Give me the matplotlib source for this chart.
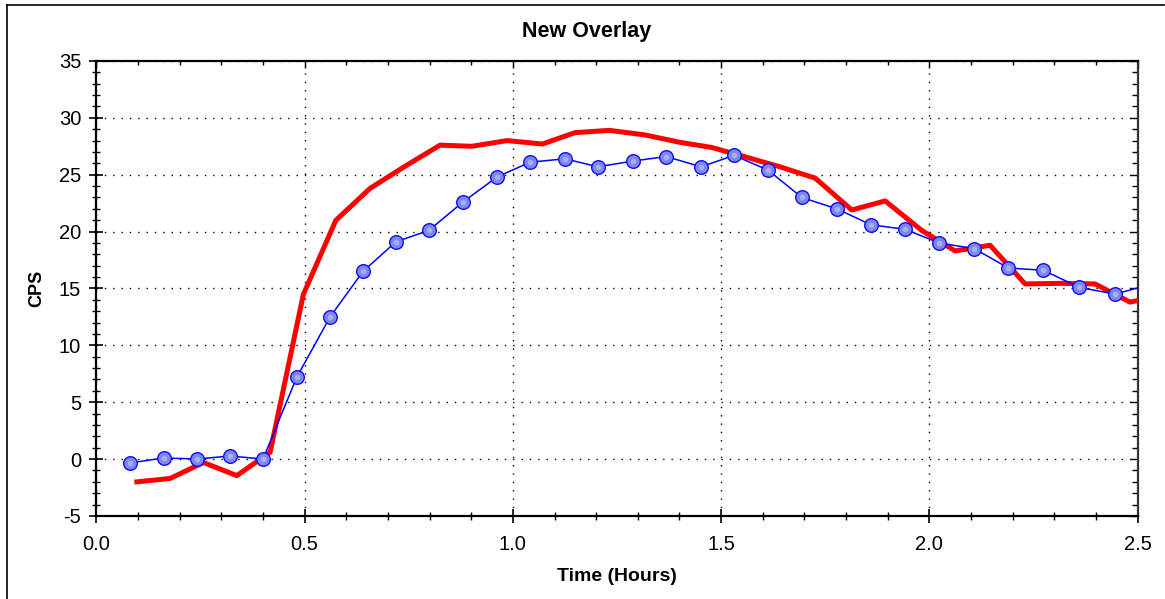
import matplotlib.pyplot as plt
from matplotlib.lines import Line2D
from matplotlib.ticker import MultipleLocator

plt.rcParams['font.family'] = ['Liberation Sans', 'DejaVu Sans']

# Measured counts (blue, with markers)
meas_hours = [0.080, 0.162, 0.241, 0.321, 0.400, 0.481, 0.561, 0.640, 0.719, 0.798,
              0.880, 0.962, 1.041, 1.125, 1.204, 1.288, 1.368, 1.452, 1.531, 1.613,
              1.694, 1.778, 1.860, 1.942, 2.024, 2.108, 2.190, 2.274, 2.360, 2.446,
              2.530]
meas_cps = [-0.34, 0.10, 0.01, 0.27, 0.01, 7.2, 12.5, 16.5, 19.1, 20.1,
            22.6, 24.8, 26.1, 26.4, 25.7, 26.2, 26.6, 25.7, 26.7, 25.4,
            23.0, 22.0, 20.6, 20.2, 19.0, 18.5, 16.8, 16.6, 15.1, 14.5,
            15.35]

# Overlay curve (red)
over_hours = [0.097, 0.177, 0.257, 0.337, 0.417, 0.497, 0.575, 0.657, 0.739, 0.825,
              0.901, 0.986, 1.071, 1.149, 1.232, 1.317, 1.401, 1.477, 1.560, 1.641,
              1.726, 1.814, 1.894, 1.982, 2.062, 2.146, 2.230, 2.315, 2.398, 2.482,
              2.560]
over_cps = [-2.0, -1.7, -0.3, -1.45, 0.6, 14.5, 21.0, 23.8, 25.7, 27.6,
            27.5, 28.0, 27.7, 28.7, 28.9, 28.5, 27.85, 27.4, 26.55, 25.7,
            24.7, 21.9, 22.7, 20.1, 18.3, 18.8, 15.4, 15.45, 15.4, 13.8,
            14.4]

fig = plt.figure(figsize=(11.65, 5.99), dpi=100)
ax = fig.add_axes([0.0828, 0.1386, 0.8936, 0.7596])

ax.plot(over_hours, over_cps, color='#ff0000', linewidth=3.6, zorder=3)
ax.plot(meas_hours, meas_cps, color='#0000ff', linewidth=1.1, marker='o',
        markersize=9.8, markerfacecolor='#7d86f2', markeredgecolor='#1010ee',
        markeredgewidth=1.0, zorder=4)
# small highlight on each marker
ax.plot(meas_hours, meas_cps, linestyle='none', marker='o', markersize=4,
        markerfacecolor='#c4c9fb', markeredgecolor='none', alpha=0.6, zorder=5)

ax.set_xlim(0, 2.5)
ax.set_ylim(-5, 35)
ax.xaxis.set_major_locator(MultipleLocator(0.5))
ax.xaxis.set_minor_locator(MultipleLocator(0.1))
ax.yaxis.set_major_locator(MultipleLocator(5))
ax.yaxis.set_minor_locator(MultipleLocator(1))
ax.xaxis.set_major_formatter(lambda v, p: f'{v:.1f}')
ax.yaxis.set_major_formatter(lambda v, p: f'{v:.0f}'.replace('\u2212', '-'))

ax.grid(which='major', color='black', linestyle=(0, (1, 5)), linewidth=1.0)

for side in ['left', 'bottom', 'top', 'right']:
    ax.spines[side].set_linewidth(1.6)
    ax.spines[side].set_color('black')
ax.spines['right'].set_color('#333333')

ax.tick_params(which='major', direction='inout', length=10, width=1.2,
               labelsize=14.5, top=False, right=False)
ax.tick_params(which='minor', direction='inout', length=6, width=1.0,
               top=False, right=False)
ax.tick_params(axis='x', which='major', pad=9)
ax.tick_params(axis='y', which='major', pad=6)

# inward ticks along the top and right edges
ax_top = ax.secondary_xaxis('top')
ax_top.xaxis.set_major_locator(MultipleLocator(0.5))
ax_top.xaxis.set_minor_locator(MultipleLocator(0.1))
ax_top.tick_params(which='major', direction='in', length=5, width=1.0, labelsize=0)
ax_top.tick_params(which='minor', direction='in', length=3, width=1.0)
ax_top.set_xticklabels([])
ax_top.spines['top'].set_visible(False)
ax_right = ax.secondary_yaxis('right')
ax_right.yaxis.set_major_locator(MultipleLocator(5))
ax_right.yaxis.set_minor_locator(MultipleLocator(1))
ax_right.tick_params(which='major', direction='in', length=6, width=1.0, labelsize=0)
ax_right.tick_params(which='minor', direction='in', length=4, width=1.0)
ax_right.set_yticklabels([])
ax_right.spines['right'].set_visible(False)

fig.text(587 / 1165, 1 - 32 / 599, 'New Overlay', fontsize=15.5,
         fontweight='bold', ha='center', va='center')
ax.set_xlabel('Time (Hours)', fontsize=14, fontweight='bold', labelpad=10)
ax.set_ylabel('CPS', fontsize=13, fontweight='bold', labelpad=10)

# frame lines along the top and left of the figure
fig.add_artist(Line2D([7 / 1165, 1164 / 1165], [1 - 5 / 599, 1 - 5 / 599],
                      color='black', linewidth=1.2))
fig.add_artist(Line2D([7 / 1165, 7 / 1165], [0, 1 - 5 / 599],
                      color='black', linewidth=1.2))

fig.savefig('out.png', dpi=100, facecolor='white')
